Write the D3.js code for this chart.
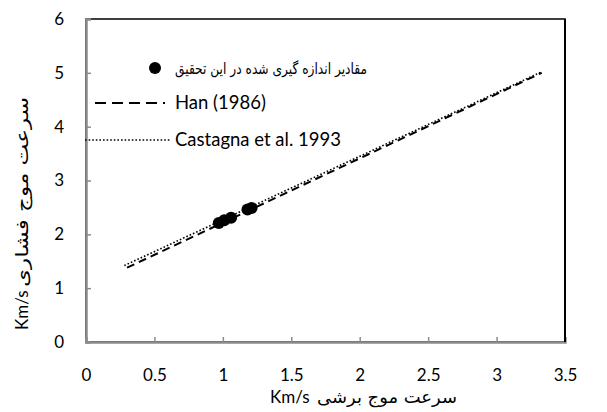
<!DOCTYPE html>
<html>
<head>
<meta charset="utf-8">
<script src="https://cdn.jsdelivr.net/npm/d3@7"></script>
<style>
html,body{margin:0;padding:0;background:#fff;}
svg{display:block;}
</style>
</head>
<body>
<svg id="chart" width="607" height="412"></svg>
<script>
// ---- data ----
const xTicks = [0, 0.5, 1, 1.5, 2, 2.5, 3, 3.5];
const yTicks = [0, 1, 2, 3, 4, 5, 6];
const measuredVs = [0.97, 1.01, 1.06, 1.18, 1.21];
const measuredVp = [2.21, 2.26, 2.31, 2.46, 2.49];
const hanVs = [0.30, 3.33];
const hanVp = [1.38, 5.00];
const castagnaVs = [0.28, 3.33];
const castagnaVp = [1.42, 5.02];
const legendLabels = ["مقادیر اندازه گیری شده در این تحقیق", "Han (1986)", "Castagna et al. 1993"];
const unitLabel = "Km/s";
const xTitle = "سرعت موج برشی";
const yTitle = "سرعت موج فشاری";

const svg = d3.select("#chart");
const L = 86, R = 565, T = 19, B = 342;
const x = d3.scaleLinear().domain([0, 3.5]).range([L, R]);
const y = d3.scaleLinear().domain([0, 6]).range([B, T]);
const latin = "Lato, 'Open Sans', sans-serif";
const persian = "'DejaVu Sans', sans-serif";

// frame
svg.append("rect").attr("x", L).attr("y", T).attr("width", R - L).attr("height", B - T)
  .attr("fill", "none").attr("stroke", "#000").attr("stroke-width", 1.5);

// axes (gray lines with inward ticks)
const xAxis = d3.axisBottom(x).tickValues(xTicks).tickSize(-5).tickPadding(27).tickFormat(d3.format("~g"));
const gx = svg.append("g").attr("transform", `translate(0,${B})`).call(xAxis);
const yAxis = d3.axisLeft(y).tickValues(yTicks).tickSize(-5).tickPadding(22).tickFormat(d3.format("~g"));
const gy = svg.append("g").attr("transform", `translate(${L},0)`).call(yAxis);
[gx, gy].forEach(g => {
  g.select(".domain").attr("stroke", "#8c8c8c").attr("stroke-width", 2.5);
  g.selectAll(".tick line").attr("stroke", "#8c8c8c").attr("stroke-width", 1.5);
  g.selectAll(".tick text").attr("font-family", latin).attr("font-size", 17).attr("fill", "#000");
});
gx.selectAll(".tick line").filter(d => d === 0 || d === 3.5).remove();
gy.selectAll(".tick line").filter(d => d === 0 || d === 6).remove();

// right border thicker
svg.append("line").attr("x1", R).attr("x2", R).attr("y1", T).attr("y2", B).attr("stroke", "#000").attr("stroke-width", 2);

// lines
const line = d3.line().x(d => x(d[0])).y(d => y(d[1]));
svg.append("path").datum(hanVs.map((v, i) => [v, hanVp[i]]))
  .attr("d", line).attr("fill", "none").attr("stroke", "#000").attr("stroke-width", 2)
  .attr("stroke-dasharray", "8,5");
svg.append("path").datum(castagnaVs.map((v, i) => [v, castagnaVp[i]]))
  .attr("d", line).attr("fill", "none").attr("stroke", "#000").attr("stroke-width", 1.6)
  .attr("stroke-dasharray", "1.6,2");

// measured points
svg.append("g").selectAll("circle").data(measuredVs.map((v, i) => [v, measuredVp[i]])).join("circle")
  .attr("cx", d => x(d[0])).attr("cy", d => y(d[1])).attr("r", 6).attr("fill", "#000");

// legend
const lg = svg.append("g");
lg.append("circle").attr("cx", 155).attr("cy", 68).attr("r", 6).attr("fill", "#000");
lg.append("text").attr("x", 175).attr("y", 74)
  .attr("font-family", persian).attr("font-size", 15.5)
  .attr("textLength", 192).attr("lengthAdjust", "spacingAndGlyphs").text(legendLabels[0]);
lg.append("line").attr("x1", 95).attr("x2", 165).attr("y1", 103).attr("y2", 103)
  .attr("stroke", "#000").attr("stroke-width", 2).attr("stroke-dasharray", "11,6");
lg.append("text").attr("x", 175).attr("y", 109).attr("font-family", latin).attr("font-size", 18.5).text(legendLabels[1]);
lg.append("line").attr("x1", 85).attr("x2", 170).attr("y1", 140).attr("y2", 140)
  .attr("stroke", "#000").attr("stroke-width", 1.6).attr("stroke-dasharray", "1.6,2");
lg.append("text").attr("x", 175).attr("y", 146).attr("font-family", latin).attr("font-size", 18.5).text(legendLabels[2]);

// x axis title
svg.append("text").attr("x", 270).attr("y", 403).attr("font-family", latin).attr("font-size", 17).text(unitLabel);
svg.append("text").attr("x", 317).attr("y", 403).attr("font-family", persian).attr("font-size", 17)
  .attr("textLength", 140).attr("lengthAdjust", "spacingAndGlyphs").text(xTitle);
// y axis title
svg.append("text").attr("transform", "translate(28,330) rotate(-90)")
  .attr("font-family", latin).attr("font-size", 17).text(unitLabel);
svg.append("text").attr("transform", "translate(28,287) rotate(-90)")
  .attr("font-family", persian).attr("font-size", 17)
  .attr("textLength", 190).attr("lengthAdjust", "spacingAndGlyphs").text(yTitle);
</script>
</body>
</html>
